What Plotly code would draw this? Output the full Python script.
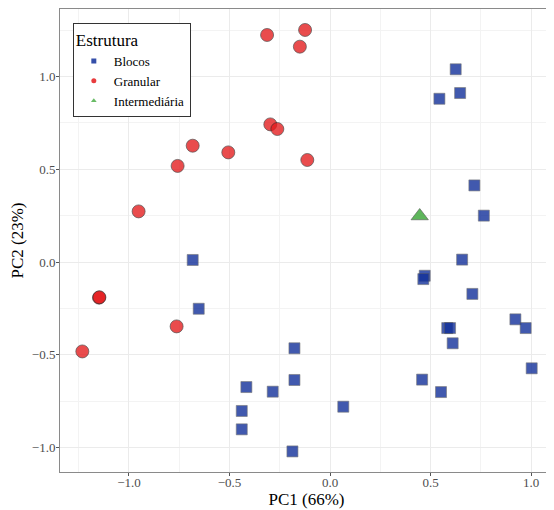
import plotly.graph_objects as go

# Data (PC1, PC2)
blocos_x = [-0.683, -0.653, -0.416, -0.285, -0.439, -0.439, -0.177, -0.177, -0.187, 0.066,
            0.458, 0.552, 0.471, 0.464, 0.657, 0.708, 0.583, 0.597, 0.610, 0.922,
            0.973, 1.003, 0.625, 0.647, 0.544, 0.718, 0.765]
blocos_y = [0.011, -0.252, -0.674, -0.699, -0.803, -0.902, -0.465, -0.636, -1.021, -0.780,
            -0.634, -0.701, -0.074, -0.092, 0.013, -0.172, -0.356, -0.356, -0.438, -0.309,
            -0.356, -0.573, 1.039, 0.911, 0.880, 0.413, 0.250]

granular_x = [-0.313, -0.124, -0.150, -0.297, -0.262, -0.113, -0.683, -0.506, -0.758,
              -0.952, -1.149, -1.147, -0.763, -1.232]
granular_y = [1.224, 1.251, 1.161, 0.742, 0.717, 0.550, 0.627, 0.591, 0.518,
              0.273, -0.192, -0.190, -0.347, -0.482]

inter_x = [0.446]
inter_y = [0.248]

series_names = ["Blocos", "Granular", "Intermediária"]

RED = "#E41A1C"
BLUE = "#12309A"
GREEN = "#4DAF4A"
FONT = "Liberation Serif"

fig = go.Figure()

# Data traces (no legend)
fig.add_trace(go.Scatter(x=blocos_x, y=blocos_y, mode="markers", showlegend=False,
                         marker=dict(symbol="square", size=11, color=BLUE, opacity=0.8,
                                     line=dict(color="#555555", width=0.6))))
fig.add_trace(go.Scatter(x=granular_x, y=granular_y, mode="markers", showlegend=False,
                         marker=dict(symbol="circle", size=13, color=RED, opacity=0.78,
                                     line=dict(color="#222222", width=0.7))))
fig.add_trace(go.Scatter(x=inter_x, y=inter_y, mode="markers", showlegend=False,
                         marker=dict(symbol="triangle-up", size=15, color=GREEN, opacity=0.9,
                                     line=dict(color="#444444", width=0.6))))

# Legend-only traces with small symbols
for name, sym, col in zip(series_names, ["square", "circle", "triangle-up"], [BLUE, RED, GREEN]):
    fig.add_trace(go.Scatter(x=[None], y=[None], mode="markers", name=name,
                             marker=dict(symbol=sym, size=5, color=col, opacity=0.85)))

axis_common = dict(
    showgrid=True, gridcolor="#EBEBEB", gridwidth=1,
    zeroline=False, showline=True, linecolor="#8A8A8A", linewidth=1, mirror=True,
    ticks="outside", ticklen=3, tickcolor="#555555", tickwidth=1,
    tickfont=dict(family=FONT, size=13, color="#4D4D4D"),
    minor=dict(showgrid=True, gridcolor="#F3F3F3", gridwidth=0.6, dtick=0.25),
)

# The page body has an 8px default margin; size the figure to fill the window exactly.
fig.update_layout(
    width=546, height=502,
    margin=dict(l=52, r=1, t=1, b=38, autoexpand=False),
    paper_bgcolor="white", plot_bgcolor="white",
    font=dict(family=FONT, color="black"),
    xaxis=dict(range=[-1.343, 1.109], dtick=0.5, tick0=0, tickformat=".1f",
               ticklabelstandoff=-5,
               title=dict(text="PC1 (66%)", font=dict(family=FONT, size=17), standoff=4),
               **axis_common),
    yaxis=dict(range=[-1.132, 1.364], dtick=0.5, tick0=0, tickformat=".1f",
               ticklabelstandoff=-2,
               title=dict(text="PC2 (23%)", font=dict(family=FONT, size=17), standoff=7),
               **axis_common),
    legend=dict(x=0.026, y=0.97, xanchor="left", yanchor="top",
                bgcolor="white", bordercolor="#333333", borderwidth=1,
                title=dict(text="Estrutura", font=dict(family=FONT, size=17)),
                font=dict(family=FONT, size=13), tracegroupgap=0, itemwidth=30),
)

fig.write_html("out.html")
